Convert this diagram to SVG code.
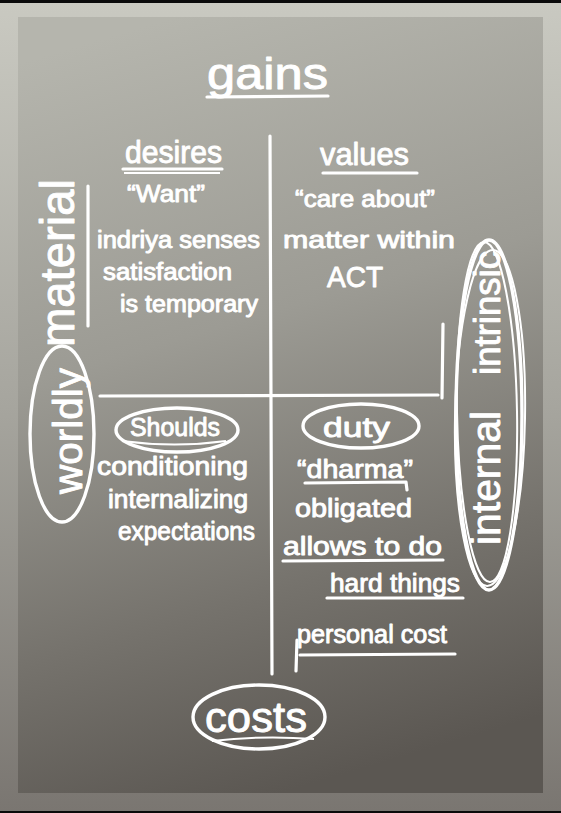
<svg xmlns="http://www.w3.org/2000/svg" width="561" height="813" viewBox="0 0 561 813">
<defs>
<linearGradient id="frame" x1="0" y1="0" x2="0" y2="1">
<stop offset="0" stop-color="#c9c9c1"/>
<stop offset="0.5" stop-color="#a6a59e"/>
<stop offset="1" stop-color="#7a7671"/>
</linearGradient>
<linearGradient id="panel" x1="0.3" y1="0" x2="0.5" y2="1">
<stop offset="0" stop-color="#b5b5ad"/>
<stop offset="0.4" stop-color="#9c9b94"/>
<stop offset="0.75" stop-color="#75726c"/>
<stop offset="1" stop-color="#5b5752"/>
</linearGradient>
<style>
.t{font-family:"Liberation Sans","DejaVu Sans",sans-serif;fill:#fff;stroke:#fff;stroke-width:0.9;stroke-linejoin:round}
.l{fill:none;stroke:#fff;stroke-width:3.2;stroke-linecap:round;stroke-linejoin:round}
.e{fill:none;stroke:#fff;stroke-width:3.4}
.e2{fill:none;stroke:#fff;stroke-width:2}
</style>
</defs>
<rect x="0" y="0" width="561" height="813" fill="#0a0a0a"/>
<rect x="0" y="3" width="561" height="808" fill="url(#frame)"/>
<rect x="18" y="17" width="525" height="776" fill="url(#panel)"/>

<g id="connectors">
<line class="l" x1="270" y1="136" x2="272" y2="674"/>
<line class="l" x1="100" y1="396" x2="438" y2="395"/>
<line class="l" x1="88" y1="186" x2="88" y2="326"/>
<line class="l" x1="443" y1="324" x2="442" y2="398"/>
</g>

<g id="gains">
<text class="t" x="207" y="89" font-size="44" textLength="121" lengthAdjust="spacingAndGlyphs">gains</text>
<line class="l" x1="207" y1="97" x2="328" y2="96"/>
</g>

<g id="desires">
<text class="t" x="125" y="163" font-size="32" textLength="97" lengthAdjust="spacingAndGlyphs">desires</text>
<line class="l" x1="123" y1="169" x2="222" y2="169"/>
<line class="e2" x1="124" y1="173" x2="220" y2="173"/>
<text class="t" x="127" y="202" font-size="24" textLength="78" lengthAdjust="spacingAndGlyphs">“Want”</text>
<text class="t" x="97" y="248" font-size="23" textLength="163" lengthAdjust="spacingAndGlyphs">indriya senses</text>
<text class="t" x="103" y="280" font-size="23" textLength="129" lengthAdjust="spacingAndGlyphs">satisfaction</text>
<text class="t" x="120" y="312" font-size="23" textLength="138" lengthAdjust="spacingAndGlyphs">is temporary</text>
</g>

<g id="values">
<text class="t" x="320" y="165" font-size="32" textLength="89" lengthAdjust="spacingAndGlyphs">values</text>
<line class="l" x1="323" y1="173" x2="417" y2="173"/>
<text class="t" x="295" y="207" font-size="24" textLength="140" lengthAdjust="spacingAndGlyphs">“care about”</text>
<text class="t" x="283" y="248" font-size="24" textLength="172" lengthAdjust="spacingAndGlyphs">matter within</text>
<text class="t" x="327" y="287" font-size="30" textLength="56" lengthAdjust="spacingAndGlyphs">ACT</text>
</g>

<g id="material">
<text class="t" transform="translate(74,347) rotate(-90)" x="0" y="0" font-size="48" textLength="168" lengthAdjust="spacingAndGlyphs">material</text>
</g>

<g id="worldly">
<ellipse class="e" cx="62" cy="434" rx="32" ry="88"/>
<text class="t" transform="translate(82,494) rotate(-90)" x="0" y="0" font-size="40" textLength="126" lengthAdjust="spacingAndGlyphs">worldly</text>
</g>

<g id="intrinsic">
<ellipse class="e" cx="489" cy="415" rx="33" ry="175"/>
<ellipse class="e2" cx="487" cy="412" rx="30" ry="170" transform="rotate(-1 487 412)"/>
<ellipse class="e2" cx="490" cy="418" rx="35" ry="168" transform="rotate(1 490 418)"/>
<text class="t" transform="translate(500,375) rotate(-90)" x="0" y="0" font-size="36" textLength="124" lengthAdjust="spacingAndGlyphs">intrinsic</text>
<text class="t" transform="translate(500,545) rotate(-90)" x="0" y="0" font-size="40" textLength="134" lengthAdjust="spacingAndGlyphs">internal</text>
</g>

<g id="shoulds">
<ellipse class="e" cx="177" cy="430" rx="61" ry="22"/>
<path class="e2" d="M122 441 Q175 448 226 441"/>
<text class="t" x="130" y="436" font-size="25" textLength="90" lengthAdjust="spacingAndGlyphs">Shoulds</text>
<text class="t" x="97" y="475" font-size="25" textLength="151" lengthAdjust="spacingAndGlyphs">conditioning</text>
<text class="t" x="108" y="508" font-size="25" textLength="140" lengthAdjust="spacingAndGlyphs">internalizing</text>
<text class="t" x="118" y="540" font-size="25" textLength="137" lengthAdjust="spacingAndGlyphs">expectations</text>
</g>

<g id="duty">
<ellipse class="e" cx="361" cy="426" rx="58" ry="22"/>
<text class="t" x="323" y="437" font-size="28" textLength="67" lengthAdjust="spacingAndGlyphs">duty</text>
<text class="t" x="297" y="478" font-size="26" textLength="116" lengthAdjust="spacingAndGlyphs">“dharma”</text>
<path class="l" d="M305 483 L406 482 L407 490"/>
<text class="t" x="295" y="517" font-size="26" textLength="117" lengthAdjust="spacingAndGlyphs">obligated</text>
<text class="t" x="283" y="555" font-size="25" textLength="159" lengthAdjust="spacingAndGlyphs">allows to do</text>
<line class="l" x1="283" y1="561" x2="443" y2="560"/>
<text class="t" x="330" y="592" font-size="25" textLength="130" lengthAdjust="spacingAndGlyphs">hard things</text>
<line class="l" x1="327" y1="598" x2="463" y2="598"/>
<text class="t" x="297" y="643" font-size="25" textLength="150" lengthAdjust="spacingAndGlyphs">personal cost</text>
<line class="l" x1="297" y1="640" x2="296" y2="671"/>
<line class="l" x1="300" y1="655" x2="455" y2="654"/>
</g>

<g id="costs">
<ellipse class="e" cx="259" cy="717" rx="66" ry="32"/>
<path class="e2" d="M212 741 Q262 735 314 739"/>
<text class="t" x="205" y="732" font-size="42" textLength="102" lengthAdjust="spacingAndGlyphs">costs</text>
</g>
</svg>
